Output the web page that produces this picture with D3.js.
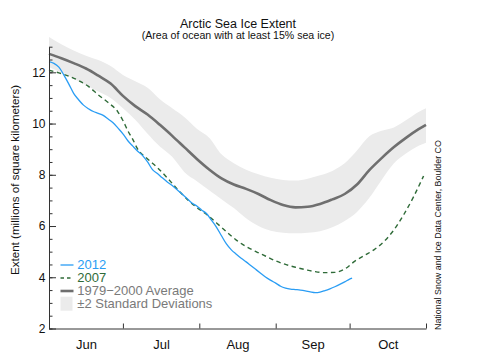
<!DOCTYPE html>
<html>
<head>
<meta charset="utf-8">
<script src="https://cdn.jsdelivr.net/npm/d3@7"></script>
<style>
  html, body { margin: 0; padding: 0; background: #ffffff; }
  svg { display: block; }
  text { font-family: "Liberation Sans", Arial, Helvetica, sans-serif; }
</style>
</head>
<body>
<svg id="chart" width="480" height="356"></svg>
<script>
// ---- data (day offsets from June 1) ----
const avgDays = [0,5,10,15,20,25,30,35,40,45,50,55,60,65,70,75,80,85,90,95,100,105,110,115,120,125,130,135,140,145,150,153];
const avgValues = [12.72,12.55,12.36,12.15,11.87,11.56,11.08,10.68,10.35,9.95,9.52,9.07,8.62,8.21,7.86,7.62,7.45,7.25,7.01,6.82,6.73,6.75,6.86,7.04,7.25,7.62,8.18,8.65,9.08,9.45,9.78,9.95];
const upperValues = [13.38,13.1,12.85,12.65,12.48,12.25,11.9,11.65,11.4,10.95,10.6,10.25,9.8,9.45,8.8,8.45,8.2,8.02,7.88,7.8,7.78,7.85,7.98,8.15,8.45,8.95,9.5,9.72,9.85,10.14,10.45,10.6];
const lowerValues = [12.2,12.0,11.75,11.5,11.25,11.0,10.6,10.15,9.6,9.1,8.7,8.1,7.75,7.4,7.05,6.7,6.3,6.0,5.82,5.74,5.72,5.74,5.8,5.95,6.2,6.55,7.1,7.8,8.45,8.84,9.13,9.25];

const days2012 = [0,2,4,6,8,10,12,14,16,18,20,22,24,26,28,30,32,34,36,38,40,42,44,46,48,50,52,54,56,58,60,62,64,66,68,70,72,74,76,78,80,82,84,86,88,90,92,94,96,98,100,102,104,106,108,110,112,114,116,118,120,122,123];
const values2012 = [12.42,12.35,12.2,11.9,11.55,11.18,10.93,10.72,10.58,10.47,10.4,10.32,10.18,10.03,9.82,9.6,9.33,9.12,8.92,8.75,8.5,8.2,8.05,7.88,7.72,7.58,7.42,7.25,7.08,6.9,6.78,6.62,6.48,6.22,5.95,5.62,5.3,5.07,4.9,4.74,4.6,4.45,4.3,4.15,4.0,3.88,3.77,3.65,3.58,3.54,3.52,3.5,3.47,3.43,3.4,3.42,3.48,3.55,3.63,3.72,3.82,3.93,3.97];

const days2007 = [0,4,8,12,16,20,24,28,30,32,34,36,40,44,48,52,56,60,64,68,72,76,80,84,88,92,96,100,104,108,112,116,120,124,128,132,136,140,144,148,152];
const values2007 = [12.08,11.98,11.85,11.68,11.45,11.12,10.82,10.45,10.12,9.72,9.38,9.0,8.62,8.28,7.88,7.45,7.05,6.72,6.45,6.12,5.78,5.45,5.2,5.0,4.82,4.64,4.5,4.39,4.3,4.22,4.18,4.19,4.32,4.62,4.85,5.08,5.4,5.85,6.45,7.15,7.95];

const monthStarts = [0,30,61,92,122,153];
const monthLabels = ["Jun","Jul","Aug","Sep","Oct"];
const yMajorTicks = [2,4,6,8,10,12];
const yMinorTicks = d3.range(2, 13.01, 0.5);
const legendLabels = ["2012","2007","1979\u22122000 Average","\u00b12 Standard Deviations"];

// ---- colors ----
const cBlue = "#2a9df4", cGreen = "#2f6b38", cAvg = "#6f6f6f", cBand = "#ebebeb", cAxis = "#333";

const svg = d3.select("#chart");
const x = d3.scaleLinear().domain([0,153]).range([49,426]);
const y = d3.scaleLinear().domain([2,13]).range([328.5,46.7]);

// band
const band = avgDays.map((d,i)=>({d, lo: lowerValues[i], hi: upperValues[i]}));
svg.append("path").datum(band)
  .attr("fill", cBand)
  .attr("d", d3.area().x(p=>x(p.d)).y0(p=>y(p.lo)).y1(p=>y(p.hi)).curve(d3.curveMonotoneX));

// average
svg.append("path").datum(avgDays.map((d,i)=>[d, avgValues[i]]))
  .attr("fill","none").attr("stroke", cAvg).attr("stroke-width", 2.6)
  .attr("d", d3.line().x(p=>x(p[0])).y(p=>y(p[1])).curve(d3.curveMonotoneX));

// 2007
svg.append("path").datum(days2007.map((d,i)=>[d, values2007[i]]))
  .attr("fill","none").attr("stroke", cGreen).attr("stroke-width", 1.4)
  .attr("stroke-dasharray","4.5,3.5")
  .attr("d", d3.line().x(p=>x(p[0])).y(p=>y(p[1])).curve(d3.curveMonotoneX));

// 2012
svg.append("path").datum(days2012.map((d,i)=>[d, values2012[i]]))
  .attr("fill","none").attr("stroke", cBlue).attr("stroke-width", 1.3)
  .attr("d", d3.line().x(p=>x(p[0])).y(p=>y(p[1])).curve(d3.curveMonotoneX));

// y axis (minor ticks)
const yMinor = svg.append("g").attr("transform","translate(49,0)")
  .call(d3.axisLeft(y).tickValues(yMinorTicks).tickSizeInner(-3.5).tickSizeOuter(0).tickFormat(""));
// y axis (major ticks + labels)
const yMajor = svg.append("g").attr("transform","translate(49,0)")
  .call(d3.axisLeft(y).tickValues(yMajorTicks).tickSizeInner(-7).tickSizeOuter(0).tickPadding(3.5).tickFormat(d3.format("d")));
yMajor.select(".domain").remove();
[yMinor, yMajor].forEach(g=>{
  g.selectAll("line").attr("stroke", cAxis);
  g.selectAll(".domain").attr("stroke", cAxis);
  g.selectAll("text").attr("font-size", 12).attr("fill","#111");
});

// x axis (month boundaries)
const xAxis = svg.append("g").attr("transform","translate(0,328.5)")
  .call(d3.axisBottom(x).tickValues(monthStarts).tickSizeInner(-5).tickSizeOuter(0).tickFormat(""));
xAxis.selectAll("line").attr("stroke", cAxis);
xAxis.select(".domain").attr("stroke", cAxis);
// x labels at mid-month
const mids = monthStarts.slice(0,-1).map((s,i)=>(s+monthStarts[i+1])/2);
const xLab = svg.append("g").attr("transform","translate(0,328.5)")
  .call(d3.axisBottom(x).tickValues(mids).tickSize(0).tickPadding(11).tickFormat((d,i)=>monthLabels[i]));
xLab.select(".domain").remove();
xLab.selectAll("text").attr("font-size", 13).attr("fill","#111");

// titles
svg.append("text").attr("x",238).attr("y",28).attr("text-anchor","middle")
  .attr("font-size",12.5).attr("fill","#111").text("Arctic Sea Ice Extent");
svg.append("text").attr("x",238).attr("y",38.5).attr("text-anchor","middle")
  .attr("font-size",10.6).attr("fill","#111").text("(Area of ocean with at least 15% sea ice)");

// y label
svg.append("text").attr("transform","translate(19,180) rotate(-90)").attr("text-anchor","middle")
  .attr("font-size",11.6).attr("fill","#111").text("Extent (millions of square kilometers)");

// credit
svg.append("text").attr("transform","translate(441,330) rotate(-90)").attr("text-anchor","start")
  .attr("font-size",8.9).attr("fill","#111").text("National Snow and Ice Data Center, Boulder CO");

// legend
const lg = svg.append("g");
const lx0 = 60.5, lx1 = 73.5, tx = 77.3;
const rows = [265, 278, 291, 303.5];
lg.append("line").attr("x1",lx0).attr("x2",lx1).attr("y1",rows[0]).attr("y2",rows[0]).attr("stroke",cBlue).attr("stroke-width",1.3);
lg.append("line").attr("x1",lx0).attr("x2",lx1).attr("y1",rows[1]).attr("y2",rows[1]).attr("stroke",cGreen).attr("stroke-width",1.4).attr("stroke-dasharray","3.5,3");
lg.append("line").attr("x1",lx0).attr("x2",lx1).attr("y1",rows[2]).attr("y2",rows[2]).attr("stroke",cAvg).attr("stroke-width",2.6);
lg.append("rect").attr("x",lx0).attr("y",296.7).attr("width",12).attr("height",14).attr("fill",cBand);
const tcols = [cBlue, cGreen, "#7a7a7a", "#7a7a7a"];
legendLabels.forEach((t,i)=>{
  lg.append("text").attr("x",tx).attr("y",rows[i]+4.4).attr("font-size",13).attr("fill",tcols[i]).text(t);
});
</script>
</body>
</html>
